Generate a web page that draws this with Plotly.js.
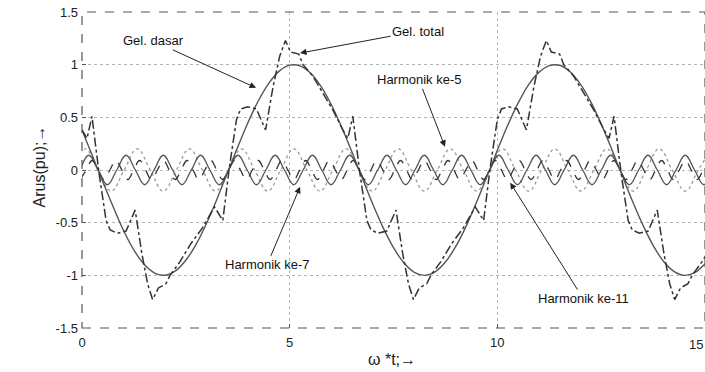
<!DOCTYPE html>
<html>
<head>
<meta charset="utf-8">
<script src="https://cdn.plot.ly/plotly-3.0.1.min.js"></script>
<style>html,body{margin:0;padding:0;background:#fff;}#chart{width:705px;height:372px;}</style>
</head>
<body>
<div id="chart"></div>
<script>
// Fundamental ("Gel. dasar"), sampled every 0.25 from x = 0
const fundX0 = 0, fundDX = 0.25;
const fundY = [0.378,0.136,-0.112,-0.349,-0.575,-0.760,-0.897,-0.978,-0.999,-0.958,
  -0.857,-0.703,-0.505,-0.276,-0.029,0.219,0.454,0.660,0.825,0.939,
  0.995,0.989,0.921,0.796,0.622,0.409,0.170,-0.079,-0.323,-0.547,
  -0.737,-0.881,-0.971,-1.000,-0.967,-0.874,-0.726,-0.533,-0.307,-0.062,
  0.187,0.424,0.635,0.809,0.927,0.991,0.994,0.933,0.816,0.647,
  0.438,0.202,-0.046,-0.292,-0.519,-0.715,-0.866,-0.962,-1.000,-0.975,-0.889];

// Total wave ("Gel. total"), traced points
const totalX = [0.00,0.12,0.24,0.41,0.58,0.68,0.85,1.06,1.28,1.44,1.58,1.70,1.84,2.02,2.12,2.36,2.62,2.90,3.19,3.39,
  3.55,3.72,3.82,3.99,4.20,4.42,4.60,4.76,4.90,5.02,5.22,5.32,5.56,5.80,6.04,
  6.28,6.40,6.52,6.69,6.86,6.96,7.13,7.34,7.56,7.72,7.86,7.98,8.12,8.30,8.40,8.64,8.90,9.18,9.47,9.67,
  9.83,10.00,10.10,10.27,10.48,10.70,10.88,11.04,11.18,11.30,11.50,11.60,11.84,12.08,12.32,
  12.57,12.69,12.81,12.98,13.15,13.25,13.42,13.63,13.85,14.01,14.15,14.27,14.41,14.59,14.69,14.93,15.19];
const totalY = [0.38,0.30,0.51,-0.03,-0.48,-0.57,-0.60,-0.58,-0.38,-0.79,-1.08,-1.23,-1.12,-1.08,-1.00,-0.87,-0.70,-0.55,-0.35,-0.48,
  0.03,0.48,0.58,0.60,0.58,0.38,0.79,1.08,1.23,1.12,1.10,1.00,0.89,0.73,0.57,
  0.38,0.30,0.51,-0.03,-0.48,-0.57,-0.60,-0.58,-0.38,-0.79,-1.08,-1.23,-1.12,-1.08,-1.00,-0.87,-0.70,-0.55,-0.35,-0.48,
  0.03,0.48,0.58,0.60,0.58,0.38,0.79,1.08,1.23,1.12,1.10,1.00,0.89,0.73,0.57,
  0.38,0.30,0.51,-0.03,-0.48,-0.57,-0.60,-0.58,-0.38,-0.79,-1.08,-1.23,-1.12,-1.08,-1.00,-0.87,-0.70];

// 5th harmonic, extremes and zero crossings
const h5X0 = -0.241, h5DX = 0.31416;
const h5Y = [0,0.2,0,-0.2, 0,0.2,0,-0.2, 0,0.2,0,-0.2, 0,0.2,0,-0.2, 0,0.2,0,-0.2, 0,0.2,0,-0.2,
  0,0.2,0,-0.2, 0,0.2,0,-0.2, 0,0.2,0,-0.2, 0,0.2,0,-0.2, 0,0.2,0,-0.2, 0,0.2,0,-0.2, 0,0.2];

// 7th harmonic
const h7X0 = -0.286, h7DX = 0.2244;
const h7Y = [-0.14,0,0.14,0, -0.14,0,0.14,0, -0.14,0,0.14,0, -0.14,0,0.14,0, -0.14,0,0.14,0,
  -0.14,0,0.14,0, -0.14,0,0.14,0, -0.14,0,0.14,0, -0.14,0,0.14,0, -0.14,0,0.14,0,
  -0.14,0,0.14,0, -0.14,0,0.14,0, -0.14,0,0.14,0, -0.14,0,0.14,0, -0.14,0,0.14,0,
  -0.14,0,0.14,0, -0.14,0,0.14,0, -0.14,0,0.14];

// 11th harmonic
const h11X0 = -0.041, h11DX = 0.1428;
const h11Y = [-0.09,0,0.09,0, -0.09,0,0.09,0, -0.09,0,0.09,0, -0.09,0,0.09,0, -0.09,0,0.09,0,
  -0.09,0,0.09,0, -0.09,0,0.09,0, -0.09,0,0.09,0, -0.09,0,0.09,0, -0.09,0,0.09,0,
  -0.09,0,0.09,0, -0.09,0,0.09,0, -0.09,0,0.09,0, -0.09,0,0.09,0, -0.09,0,0.09,0,
  -0.09,0,0.09,0, -0.09,0,0.09,0, -0.09,0,0.09,0, -0.09,0,0.09,0, -0.09,0,0.09,0,
  -0.09,0,0.09,0, -0.09,0,0.09,0, -0.09,0,0.09,0, -0.09,0,0.09,0, -0.09,0,0.09,0,
  -0.09,0,0.09,0, -0.09,0,0.09];

const xTicks = [0,5,10,15];
const xTickText = ['0','5','10',''];   // "15" is placed as a right-anchored label so it is not cut at the edge
const lastXTick = '15';
const yTicks = [-1.5,-1,-0.5,0,0.5,1,1.5];
const yTickText = ['-1.5','-1','-0.5','0','0.5','1','1.5'];

const labels = [
  {text:'Gel. dasar', x:4.19, y:0.78, ax:-103, ay:-47},
  {text:'Gel. total', x:5.25, y:1.11, ax:118, ay:-22},
  {text:'Harmonik ke-5', x:8.74, y:0.22, ax:-26, ay:-67},
  {text:'Harmonik ke-7', x:5.25, y:-0.16, ax:-33, ay:78},
  {text:'Harmonik ke-11', x:10.31, y:-0.12, ax:73, ay:116}
];

const traces = [
  {type:'scatter', mode:'lines', x0:h5X0, dx:h5DX, y:h5Y, line:{color:'#9a9a9a', width:1.3, dash:'dot', shape:'spline', smoothing:1.2}, hoverinfo:'skip'},
  {type:'scatter', mode:'lines', x0:h7X0, dx:h7DX, y:h7Y, line:{color:'#555', width:1.3, shape:'spline', smoothing:1.2}, hoverinfo:'skip'},
  {type:'scatter', mode:'lines', x0:h11X0, dx:h11DX, y:h11Y, line:{color:'#333', width:1.3, dash:'dash', shape:'spline', smoothing:1.2}, hoverinfo:'skip'},
  {type:'scatter', mode:'lines', x0:fundX0, dx:fundDX, y:fundY, line:{color:'#555', width:1.4, shape:'spline'}, hoverinfo:'skip'},
  {type:'scatter', mode:'lines', x:totalX, y:totalY, line:{color:'#333', width:1.5, dash:'dashdot'}, hoverinfo:'skip'}
];

const font = 'Liberation Sans, Arial, sans-serif';
const annotations = labels.map(l => ({
  text:l.text, x:l.x, y:l.y, xref:'x', yref:'y', ax:l.ax, ay:l.ay,
  showarrow:true, arrowhead:2, arrowsize:1.3, arrowwidth:1, arrowcolor:'#222',
  font:{family:font, size:13, color:'#111'}
}));
annotations.push({text:'Arus(pu);→', xref:'paper', yref:'paper', x:-0.085, y:0.51, textangle:-90,
  showarrow:false, font:{family:font, size:16, color:'#222'}});
annotations.push({text:'ω *t;→', xref:'paper', yref:'paper', x:0.497, y:-0.1, yanchor:'middle',
  showarrow:false, font:{family:font, size:16, color:'#222'}});
annotations.push({text:lastXTick, xref:'paper', yref:'paper', x:1, y:0, xanchor:'right', yanchor:'top', yshift:-7,
  showarrow:false, font:{family:font, size:13, color:'#222'}});

const layout = {
  width:705, height:372,
  margin:{l:82, r:0, t:12, b:44},
  paper_bgcolor:'#fff', plot_bgcolor:'#fff',
  showlegend:false,
  xaxis:{range:[0,15], tickvals:xTicks, ticktext:xTickText, showgrid:true, gridcolor:'#b5b5b5', griddash:'dot', gridwidth:1,
    zeroline:false, showline:false, ticks:'inside', ticklen:4, tickcolor:'#555', ticklabelstandoff:5,
    tickfont:{family:font, size:13, color:'#222'}},
  yaxis:{range:[-1.5,1.5], tickvals:yTicks, ticktext:yTickText, showgrid:true, gridcolor:'#b5b5b5', griddash:'dot', gridwidth:1,
    zeroline:false, showline:false, ticks:'inside', ticklen:4, tickcolor:'#555', ticklabelstandoff:3,
    tickfont:{family:font, size:13, color:'#222'}},
  shapes:[{type:'rect', xref:'paper', yref:'paper', x0:0, x1:1, y0:0, y1:1, line:{color:'#555', width:1.2, dash:'dash'}}],
  annotations:annotations
};

Plotly.newPlot('chart', traces, layout, {displayModeBar:false, staticPlot:true});
</script>
</body>
</html>
